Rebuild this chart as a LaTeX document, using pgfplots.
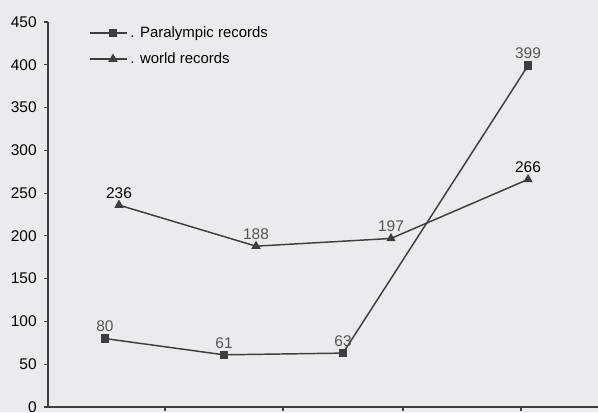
\documentclass[border=0pt]{standalone}
\usepackage{fontspec}
\setmainfont{Liberation Sans}
\usepackage{pgfplots}
\pgfplotsset{compat=1.18}
\definecolor{paper}{HTML}{EBEBEF}
\definecolor{ink}{HTML}{3E3E3E}
\definecolor{numgray}{HTML}{555555}
\begin{document}
\begin{tikzpicture}
% page background
\fill[paper] (0pt,0pt) rectangle (448.5pt,309pt);
\useasboundingbox (0pt,0pt) rectangle (448.5pt,309pt);
\begin{axis}[
  at={(36pt,3.75pt)}, anchor=south west,
  scale only axis, width=412.5pt, height=288.75pt,
  xmin=48, xmax=598, ymin=0, ymax=450,
  axis lines=left,
  axis line style={-, ink, line width=1.1pt},
  xtick={165,283,403,521}, xticklabels={},
  ytick={0,50,...,450},
  tick align=outside, major tick length=3pt,
  tick style={ink, line width=0.8pt},
  /pgf/number format/assume math mode=true,
  yticklabel style={font=\fontsize{11.6}{13}\selectfont, text=black, xshift=-2pt},
  clip=false,
  legend style={at={(0.0745,0.996)}, anchor=north west, draw=none, fill=none,
    font=\fontsize{11.2}{13}\selectfont, inner sep=0pt, row sep=6pt,
    legend cell align=left},
  legend image code/.code={
    \draw[#1, mark repeat=2, mark phase=2] plot coordinates {(0pt,0pt) (17.25pt,0pt) (27.75pt,0pt)};
  },
  point meta=explicit symbolic,
  nodes near coords={\pgfplotspointmeta},
  every node near coord/.append style={font=\fontsize{11.6}{13}\selectfont, text=numgray, anchor=south, yshift=1pt},
]
% Paralympic records
\addplot[ink, line width=1.1pt, mark=square*, mark size=2.6pt,
  mark options={fill=ink, draw=ink}] coordinates {
  (105,80) [80] (224,61) [61] (343,63) [63] (528,399) [399]
};
\addlegendentry{. Paralympic records}
% world records
\addplot[ink, line width=1.1pt, mark=triangle*, mark size=3pt,
  mark options={fill=ink, draw=ink}] coordinates {
  (119,236) [\textcolor{black}{236}] (256,188) [188]
  (391,197) [197] (528,266) [\textcolor{black}{266}]
};
\addlegendentry{. world records}
\end{axis}
\end{tikzpicture}
\end{document}
